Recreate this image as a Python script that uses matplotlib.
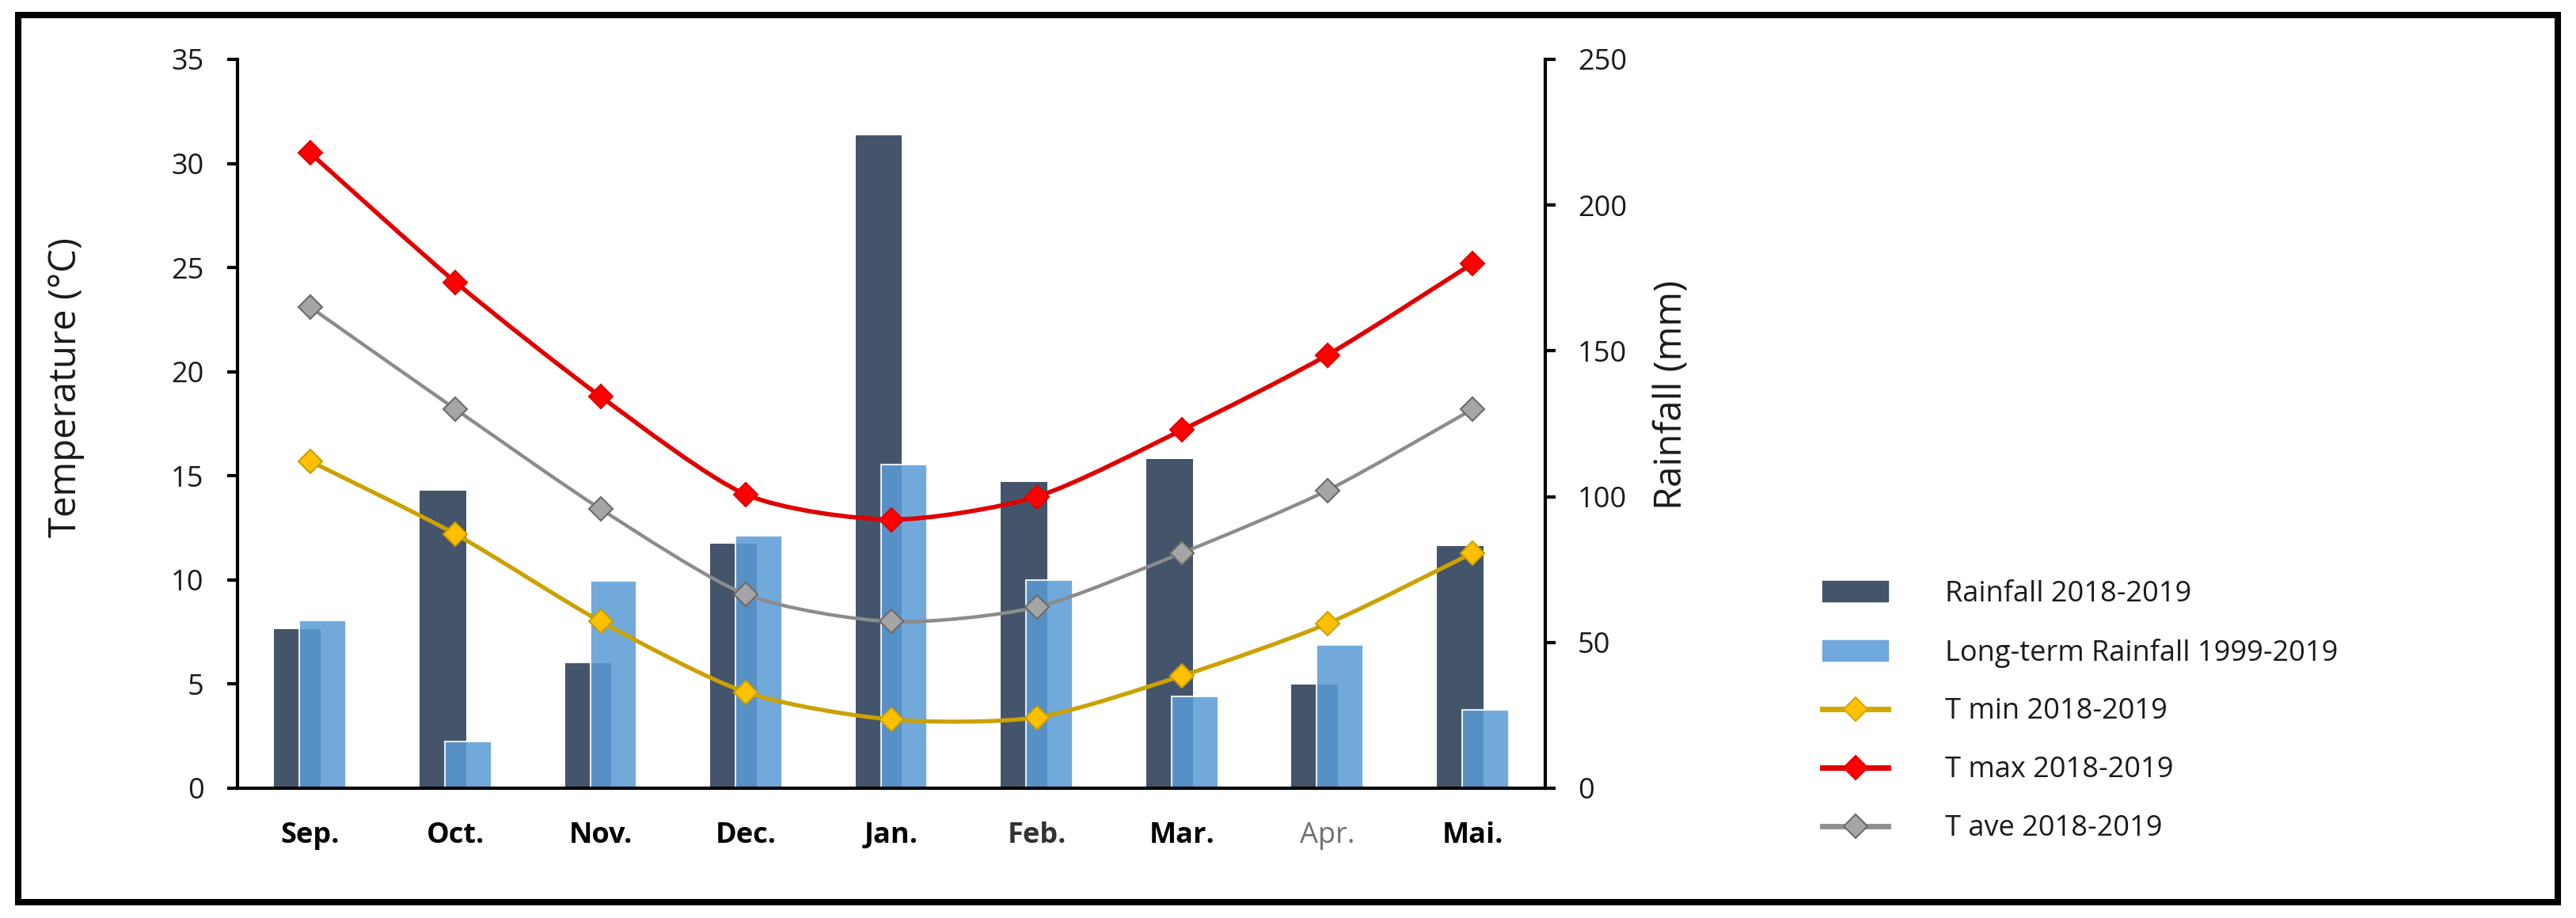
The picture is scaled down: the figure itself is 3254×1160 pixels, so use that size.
import numpy as np
import matplotlib
matplotlib.use("Agg")
import matplotlib.pyplot as plt
from matplotlib.path import Path
from matplotlib.patches import PathPatch, Patch, Rectangle
from matplotlib.lines import Line2D

plt.rcParams["font.family"] = ["Open Sans", "DejaVu Sans"]

# data
months = ["Sep.", "Oct.", "Nov.", "Dec.", "Jan.", "Feb.", "Mar.", "Apr.", "Mai."]
rain_2018 = [54.5, 102, 43, 84, 224, 105, 113, 35.5, 83]        # mm
rain_long = [57.5, 16, 71, 86.5, 111, 71.5, 31.5, 49, 27]        # mm
t_min = [15.7, 12.2, 8.0, 4.6, 3.3, 3.4, 5.4, 7.9, 11.3]         # degC
t_max = [30.5, 24.3, 18.8, 14.1, 12.9, 14.0, 17.2, 20.8, 25.2]
t_ave = [23.1, 18.2, 13.4, 9.3, 8.0, 8.7, 11.3, 14.3, 18.2]


def smooth_path(xs, ys, k=8.0):
    # excel-like smoothed line (catmull-rom style cubic bezier)
    pts = np.column_stack([xs, ys]).astype(float)
    n = len(pts)
    verts = [pts[0]]
    codes = [Path.MOVETO]
    for i in range(n - 1):
        p0 = pts[i - 1] if i > 0 else pts[i]
        p1 = pts[i]
        p2 = pts[i + 1]
        p3 = pts[i + 2] if i + 2 < n else pts[i + 1]
        verts += [p1 + (p2 - p0) / k, p2 - (p3 - p1) / k, p2]
        codes += [Path.CURVE4] * 3
    return Path(verts, codes)


fig = plt.figure(figsize=(32.54, 11.6), dpi=100)
ax = fig.add_axes([0.0922, 0.1414, 0.5077, 0.7940])
ax2 = ax.twinx()
ax.set_zorder(ax2.get_zorder() + 1)
ax.patch.set_visible(False)

x = np.arange(len(months))
w = 0.32
off = 0.087
ax2.bar(x - off, rain_2018, width=w, color="#44546A", zorder=2)
ax2.bar(x + off, rain_long, width=w, color="#5B9BD5", alpha=0.86,
        edgecolor="white", linewidth=1.5, zorder=3)

series = [
    (t_min, "#CCA100", "#FFC000", "#C9A000", 3.8),
    (t_max, "#E00000", "#FF0000", "#E00000", 4.0),
    (t_ave, "#8C8C8C", "#A5A5A5", "#6A6A6A", 3.2),
]
for vals, lc, fc, ec, lw in series:
    ax.add_patch(PathPatch(smooth_path(x, vals), facecolor="none", edgecolor=lc,
                           linewidth=lw, capstyle="round", joinstyle="round", zorder=4))
    ax.plot(x, vals, linestyle="none", marker="D", markersize=15,
            markerfacecolor=fc, markeredgecolor=ec, markeredgewidth=1.5, zorder=5)

ax.set_xlim(-0.5, 8.5)
ax.set_ylim(0, 35)
ax2.set_ylim(0, 250)
ax.set_yticks(range(0, 36, 5))
ax2.set_yticks(range(0, 251, 50))

ax.set_xticks(x)
ax.set_xticklabels(months)
for i, lab in enumerate(ax.get_xticklabels()):
    if months[i] == "Apr.":
        lab.set_color("#707070")
        lab.set_fontweight("normal")
    elif months[i] == "Feb.":
        lab.set_color("#333333")
        lab.set_fontweight("bold")
    else:
        lab.set_color("black")
        lab.set_fontweight("bold")
    lab.set_fontsize(26)

ax.tick_params(axis="x", length=0, pad=30)
ax.tick_params(axis="y", length=9.5, width=3, pad=21, labelsize=26, labelcolor="#1a1a1a")
ax2.tick_params(axis="y", length=9.5, width=3, pad=20, labelsize=26, labelcolor="#1a1a1a")

for s in ["top", "right"]:
    ax.spines[s].set_visible(False)
for s in ["top", "left", "bottom"]:
    ax2.spines[s].set_visible(False)
ax.spines["left"].set_linewidth(3)
ax.spines["bottom"].set_linewidth(3)
ax2.spines["right"].set_linewidth(3)

fig.text(83 / 3254, 1 - 490 / 1160, "Temperature (°C)", rotation=90,
         ha="center", va="center", fontsize=34, color="#1a1a1a")
fig.text(2112 / 3254, 1 - 499 / 1160, "Rainfall (mm)", rotation=90,
         ha="center", va="center", fontsize=34, color="#1a1a1a")

handles = [
    Patch(facecolor="#44546A", edgecolor="#44546A"),
    Patch(facecolor="#6FA8DC", edgecolor="#6FA8DC"),
    Line2D([], [], color="#D4A800", lw=5, marker="D", markersize=15,
           markerfacecolor="#FFC000", markeredgecolor="#D4A800", markeredgewidth=1.5),
    Line2D([], [], color="#E00000", lw=5, marker="D", markersize=15,
           markerfacecolor="#FF0000", markeredgecolor="#E00000", markeredgewidth=1.5),
    Line2D([], [], color="#909090", lw=5, marker="D", markersize=15,
           markerfacecolor="#A5A5A5", markeredgecolor="#6A6A6A", markeredgewidth=1.5),
]
labels = ["Rainfall 2018-2019", "Long-term Rainfall 1999-2019",
          "T min 2018-2019", "T max 2018-2019", "T ave 2018-2019"]
fig.legend(handles, labels, loc="center left",
           bbox_to_anchor=(2302 / 3254, 1 - 899 / 1160),
           frameon=False, fontsize=26, borderpad=0, borderaxespad=0,
           handlelength=2.3, handletextpad=2.0, labelspacing=1.05,
           labelcolor="#1a1a1a")

# black frame around the whole figure
fig.patches.append(Rectangle((23 / 3254, 1 - 1140 / 1160), (3231 - 23) / 3254,
                             (1140 - 18.5) / 1160, transform=fig.transFigure,
                             fill=False, edgecolor="black", linewidth=5.8))

fig.savefig("out.png", dpi=100)
